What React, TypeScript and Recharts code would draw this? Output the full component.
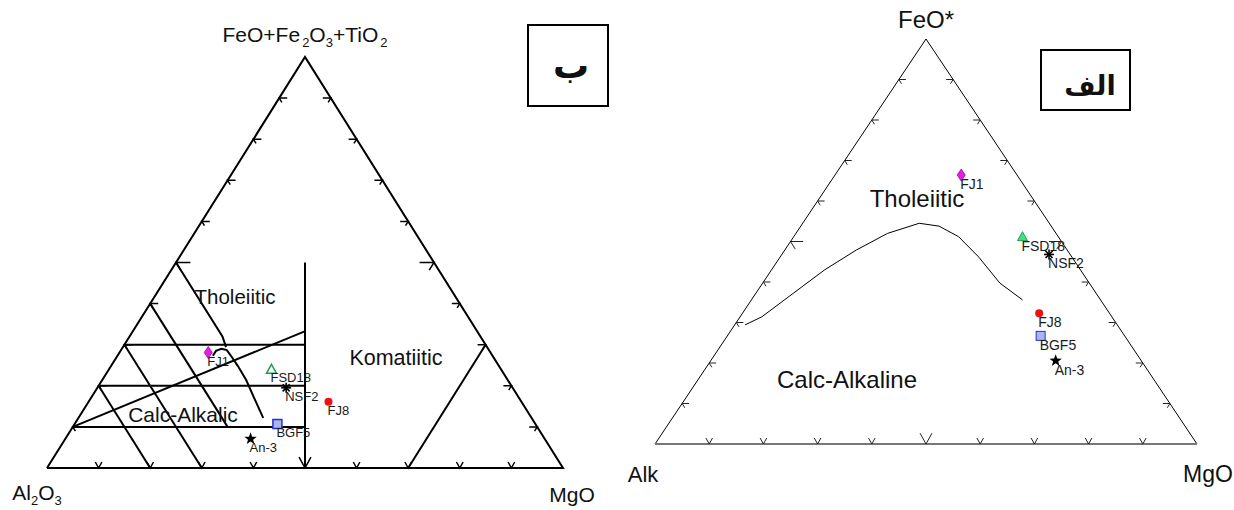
import React from 'react';
import { ScatterChart, Scatter, XAxis, YAxis } from 'recharts';

type Tri = [number, number, number]; // [left vertex, top vertex, right vertex], %

const sampleNames = ['FJ1', 'FSD18', 'NSF2', 'FJ8', 'BGF5', 'An-3'];
const sampleKinds = ['diamond', 'triangle', 'asterisk', 'circle', 'square', 'star'];

// Jensen cation plot ("ب"): Al2O3 / FeO+Fe2O3+TiO2 / MgO
const jensenAl = [54.7, 44.5, 43.9, 37.4, 50.0, 57.0];
const jensenFe = [28.1, 24.0, 19.5, 16.1, 10.7, 7.1];
const jensenMg = [17.2, 31.5, 36.6, 46.5, 39.3, 35.9];

// AFM ("الف"): Alk / FeO* / MgO
const afmAlk = [10.3, 6.6, 3.9, 13.0, 15.5, 15.8];
const afmFe = [66.4, 51.2, 46.8, 32.3, 26.7, 20.6];
const afmMg = [23.3, 42.2, 49.3, 54.8, 57.8, 63.7];

const tickSteps = [10, 20, 30, 40, 50, 60, 70, 80, 90];

const outline: Tri[] = [[100, 0, 0], [0, 100, 0], [0, 0, 100], [100, 0, 0]];
const afmSides: Tri[] = [[100, 0, 0], [0, 100, 0], [0, 0, 100]];
const afmBase: Tri[] = [[100, 0, 0], [0, 0, 100]];

// Jensen field lines, [Al, Fe, Mg]
const jensenLines: Tri[][] = [
  [[25, 50, 25], [50, 0, 50]],
  [[70, 30, 0], [35, 30, 35]],
  [[80, 20, 0], [40, 20, 40]],
  [[90, 10, 0], [45, 10, 45]],
  [[60, 40, 0], [60, 10, 30]],
  [[70, 30, 0], [70, 0, 30]],
  [[80, 20, 0], [80, 0, 20]],
  [[90, 10, 0], [33.3, 33.3, 33.4]],
  [[30, 0, 70], [0, 30, 70]],
];
const jensenThUpper: Tri[] = [[50, 50, 0], [50, 32, 18], [50.6, 29.4, 20]];
const jensenThCurve: Tri[] = [
  [54.2, 27.3, 18.5], [53.0, 28.5, 18.5], [51.7, 29.0, 19.3], [50.8, 28.7, 20.5],
  [50.7, 27.3, 22], [50.6, 24.8, 24.6], [50.7, 21.4, 27.9], [51.3, 17.3, 31.4], [52, 12.2, 35.8],
];

// Irvine & Baragar divide, [Alk, FeO*, MgO]
const afmDivide: Tri[] = [
  [68.7, 29.4, 1.9], [64.6, 31.4, 4.0], [55.9, 37.2, 6.9], [47.2, 43.0, 9.8],
  [38.9, 47.9, 13.2], [31.1, 52.0, 16.9], [24.0, 54.5, 21.5], [20.7, 53.8, 25.5],
  [18.4, 51.2, 30.4], [17.2, 46.2, 36.6], [16.5, 39.7, 43.8], [14.4, 35.6, 50.0],
];

const ARIAL = 'Arial, "Liberation Sans", sans-serif';

const toXY = ([l, t, r]: Tri) => {
  const s = l + t + r;
  return { x: (r + t / 2) / s, y: t / s };
};

const ticksOn = (side: 'left' | 'right' | 'base') =>
  tickSteps.map((v) => {
    const p: Tri = side === 'left' ? [100 - v, v, 0] : side === 'right' ? [0, v, 100 - v] : [100 - v, 0, v];
    return { ...toXY(p), big: v === 50 };
  });

const samples = (a: number[], f: number[], m: number[]) =>
  sampleNames.map((name, i) => ({ ...toXY([a[i], f[i], m[i]]), name, kind: sampleKinds[i] }));

const noDot = () => <g />;

const tickShape = (side: string, color: string, sw: number, len: number, arm: number) => (p: any) => {
  const { cx, cy, payload } = p;
  const k = payload.big ? 1.8 : 1;
  const L = len * k;
  const A = arm * k;
  let d = '';
  if (side === 'left') d = `M${cx + L},${cy} L${cx},${cy} L${cx + 0.53 * A},${cy + 0.85 * A}`;
  else if (side === 'right') d = `M${cx - L},${cy} L${cx},${cy} L${cx - 0.53 * A},${cy + 0.85 * A}`;
  else d = `M${cx - 0.55 * A},${cy - A} L${cx},${cy} L${cx + 0.55 * A},${cy - A}`;
  return <path d={d} stroke={color} strokeWidth={sw} fill="none" />;
};

const starPath = (cx: number, cy: number, ro: number, ri: number) => {
  const pts: string[] = [];
  for (let i = 0; i < 10; i++) {
    const r = i % 2 === 0 ? ro : ri;
    const a = -Math.PI / 2 + (i * Math.PI) / 5;
    pts.push(`${cx + r * Math.cos(a)},${cy + r * Math.sin(a)}`);
  }
  return `M${pts.join(' L')} Z`;
};

const sampleShape = (variant: 'jensen' | 'afm') => (p: any) => {
  const { cx, cy, payload } = p;
  const afm = variant === 'afm';
  let mark: React.ReactNode = null;
  switch (payload.kind) {
    case 'diamond':
      mark = <path d={`M${cx},${cy - 6} L${cx + 4},${cy} L${cx},${cy + 6} L${cx - 4},${cy} Z`} fill="#e020e0" stroke="#a000a0" strokeWidth={0.8} />;
      break;
    case 'triangle':
      mark = <path d={`M${cx},${cy - 5} L${cx + 5},${cy + 4} L${cx - 5},${cy + 4} Z`} fill={afm ? '#44dd88' : '#ffffff'} stroke="#20a050" strokeWidth={afm ? 1 : 1.5} />;
      break;
    case 'asterisk':
      mark = (
        <g stroke="#000" strokeWidth={1.6}>
          <line x1={cx - 5} y1={cy} x2={cx + 5} y2={cy} />
          <line x1={cx} y1={cy - 5} x2={cx} y2={cy + 5} />
          <line x1={cx - 3.5} y1={cy - 3.5} x2={cx + 3.5} y2={cy + 3.5} />
          <line x1={cx - 3.5} y1={cy + 3.5} x2={cx + 3.5} y2={cy - 3.5} />
        </g>
      );
      break;
    case 'circle':
      mark = <circle cx={cx} cy={cy} r={4} fill="#ee1111" />;
      break;
    case 'square':
      mark = <rect x={cx - 4.5} y={cy - 4.5} width={9} height={9} fill="#aab4f0" stroke="#2233cc" strokeWidth={afm ? 1 : 1.5} />;
      break;
    default:
      mark = <path d={starPath(cx, cy, 6.5, 2.7)} fill="#000" />;
  }
  return (
    <g>
      {mark}
      <text x={cx - 1} y={cy + (afm ? 14 : 13)} fontSize={afm ? 14 : 13} fontFamily={ARIAL} fill="#1a1a1a">
        {payload.name}
      </text>
    </g>
  );
};

const line = (pts: Tri[], key: string, stroke: string, w: number) => (
  <Scatter key={key} data={pts.map(toXY)} line={{ stroke, strokeWidth: w }} shape={noDot} isAnimationActive={false} />
);

const Txt = ({ x, y, size, bold, font, children }: any) => (
  <div
    style={{
      position: 'absolute', left: x - 200, top: y - size * 0.6, width: 400, textAlign: 'center',
      fontSize: size, lineHeight: `${size * 1.2}px`, fontWeight: bold ? 700 : 400,
      fontFamily: font ?? ARIAL, whiteSpace: 'nowrap', color: '#111',
    }}
  >
    {children}
  </div>
);

const Sub = ({ children, gap = 2 }: any) => (
  <span style={{ fontSize: 13, position: 'relative', top: 5, marginLeft: gap }}>{children}</span>
);

const axes = (
  <>
    <XAxis type="number" dataKey="x" domain={[0, 1]} hide />
    <YAxis type="number" dataKey="y" domain={[0, 1]} hide />
  </>
);

export default function App() {
  return (
    <div style={{ position: 'absolute', left: 0, top: 0, width: 1234, height: 510, background: '#fff', overflow: 'hidden' }}>
      <div style={{ position: 'absolute', left: 0, top: 0 }}>
        <ScatterChart width={617} height={510} margin={{ top: 57, right: 54, bottom: 42, left: 47 }}>
          {axes}
          {line(outline, 'outline', '#000', 2)}
          {jensenLines.map((pts, i) => line(pts, `j${i}`, '#000', 2))}
          {line(jensenThUpper, 'thU', '#000', 2)}
          {line(jensenThCurve, 'thC', '#000', 2)}
          <Scatter data={ticksOn('left')} shape={tickShape('left', '#000', 1.5, 8, 5)} isAnimationActive={false} />
          <Scatter data={ticksOn('right')} shape={tickShape('right', '#000', 1.5, 8, 5)} isAnimationActive={false} />
          <Scatter data={ticksOn('base')} shape={tickShape('base', '#000', 1.5, 0, 6)} isAnimationActive={false} />
          <Scatter data={samples(jensenAl, jensenFe, jensenMg)} shape={sampleShape('jensen')} isAnimationActive={false} />
        </ScatterChart>
      </div>
      <div style={{ position: 'absolute', left: 617, top: 0 }}>
        <ScatterChart width={617} height={510} margin={{ top: 39, right: 37, bottom: 66, left: 38 }}>
          {axes}
          {line(afmSides, 'sides', '#000', 1)}
          {line(afmBase, 'base', '#777', 2)}
          {line(afmDivide, 'divide', '#000', 1)}
          <Scatter data={ticksOn('left')} shape={tickShape('left', '#222', 1, 7, 5)} isAnimationActive={false} />
          <Scatter data={ticksOn('right')} shape={tickShape('right', '#222', 1, 7, 5)} isAnimationActive={false} />
          <Scatter data={ticksOn('base')} shape={tickShape('base', '#222', 1, 0, 6)} isAnimationActive={false} />
          <Scatter data={samples(afmAlk, afmFe, afmMg)} shape={sampleShape('afm')} isAnimationActive={false} />
        </ScatterChart>
      </div>

      <Txt x={305} y={35} size={21}>
        FeO+Fe<Sub>2</Sub>O<Sub gap={0}>3</Sub>+TiO<Sub>2</Sub>
      </Txt>
      <Txt x={37} y={493} size={21}>
        Al<Sub gap={0}>2</Sub>O<Sub gap={0}>3</Sub>
      </Txt>
      <Txt x={572} y={495} size={21}>MgO</Txt>
      <Txt x={235} y={297} size={20.5}>Tholeiitic</Txt>
      <Txt x={396} y={359} size={21.5}>Komatiitic</Txt>
      <Txt x={183} y={415} size={21}>Calc-Alkalic</Txt>
      <div style={{ position: 'absolute', left: 527, top: 24, width: 82, height: 83, border: '2px solid #000', boxSizing: 'border-box' }} />
      <Txt x={571} y={66} size={36} bold font='"DejaVu Sans", sans-serif'>ب</Txt>

      <Txt x={926} y={20} size={24}>FeO*</Txt>
      <Txt x={643} y={475} size={22}>Alk</Txt>
      <Txt x={1208} y={475} size={23}>MgO</Txt>
      <Txt x={917} y={199} size={24}>Tholeiitic</Txt>
      <Txt x={847} y={380} size={24}>Calc-Alkaline</Txt>
      <div style={{ position: 'absolute', left: 1040, top: 49, width: 91, height: 62, border: '2px solid #000', boxSizing: 'border-box' }} />
      <Txt x={1090} y={86} size={27} bold font='"DejaVu Sans", sans-serif'>الف</Txt>
    </div>
  );
}
